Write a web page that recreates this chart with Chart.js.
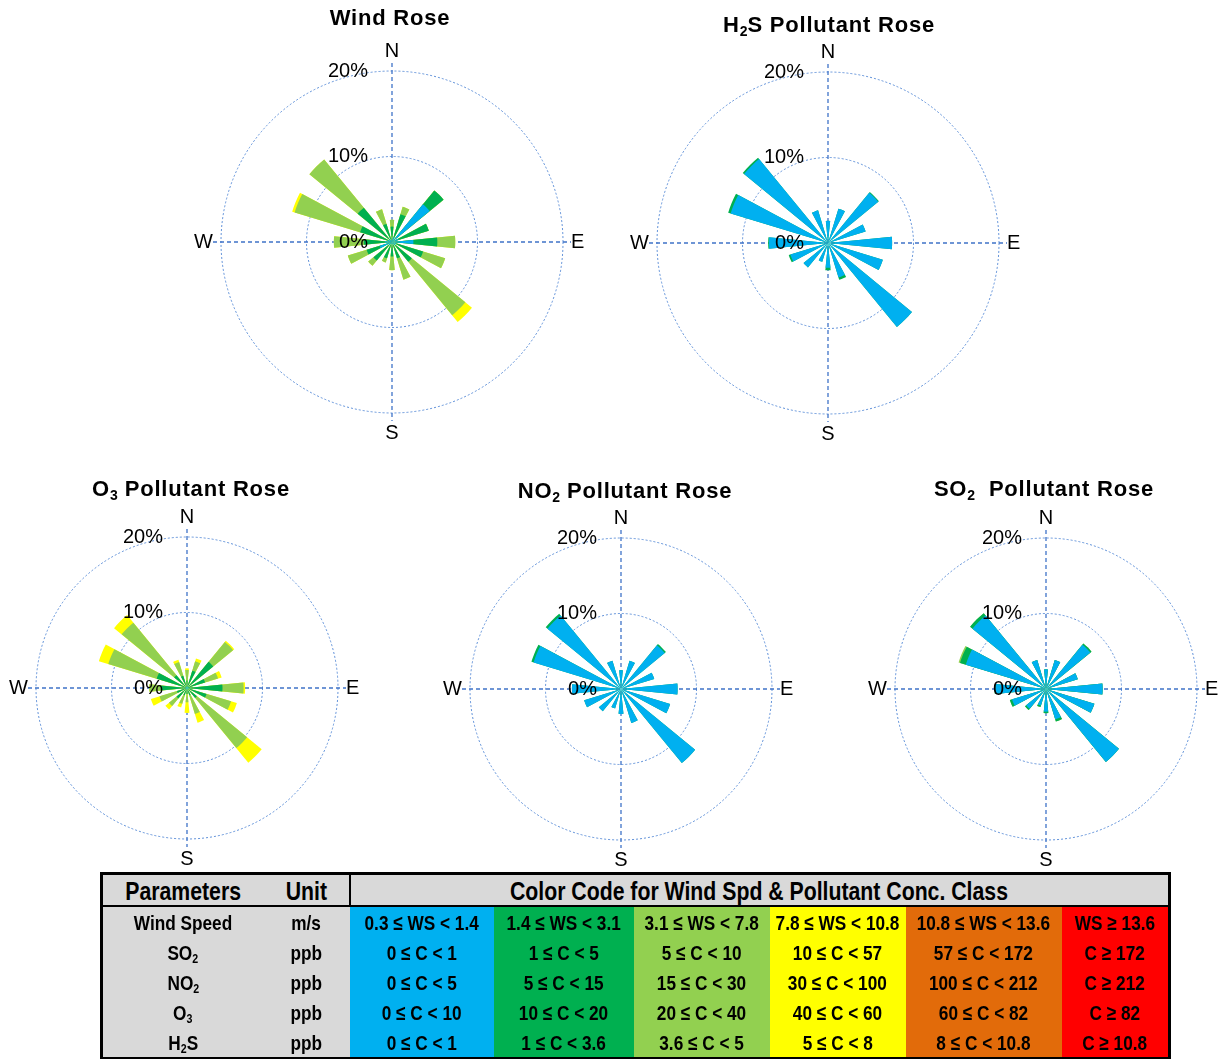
<!DOCTYPE html>
<html>
<head>
<meta charset="utf-8">
<script src="https://cdn.jsdelivr.net/npm/chart.js@4.4.1/dist/chart.umd.min.js"></script>
<style>
  body { margin: 0; background: #fff; width: 1221px; height: 1059px; position: relative; overflow: hidden;
         font-family: "Liberation Sans", Arial, sans-serif; }
  canvas { position: absolute; }
  .title { position: absolute; font-weight: bold; font-size: 22px; line-height: 26px; letter-spacing: 0.8px;
           transform: translateX(-50%); white-space: nowrap; color: #000; z-index: 2; }
  .title sub { font-size: 14px; vertical-align: -4px; letter-spacing: 0; line-height: 0; }
  table.legend { position: absolute; left: 100px; top: 872px; width: 1068px; table-layout: fixed;
                 border-collapse: collapse; border: 3px solid #000;
                 font-family: "Liberation Sans", Arial, sans-serif; font-weight: bold; color: #000; }
  table.legend th { background: #d9d9d9; height: 30px; font-size: 25px; padding: 0; border-bottom: 2px solid #000;
                    text-align: center; }
  table.legend th.cc { border-left: 2px solid #000; }
  table.legend td { height: 30px; padding: 0; text-align: center; font-size: 21px; white-space: nowrap; }
  table.legend span { display: inline-block; transform: scaleX(0.82); margin: 0 -30px; white-space: nowrap;
                      height: 24px; line-height: 24px; vertical-align: middle; overflow: visible; }
  table.legend th span { transform: scaleX(0.85); height: 28px; line-height: 28px; }
  table.legend sub { font-size: 13px; vertical-align: -3px; line-height: 0; }
  td.p { background: #d9d9d9; }
  td.c1 { background: #00B0F0; } td.c2 { background: #00B050; } td.c3 { background: #92D050; }
  td.c4 { background: #FFFF00; } td.c5 { background: #E26B0A; } td.c6 { background: #FF0000; }
</style>
</head>
<body>

<div class="title" style="left:390px; top:5px;">Wind Rose</div>
<div class="title" style="left:829px; top:12px;">H<sub>2</sub>S Pollutant Rose</div>
<div class="title" style="left:191px; top:476px;">O<sub>3</sub> Pollutant Rose</div>
<div class="title" style="left:625px; top:478px;">NO<sub>2</sub> Pollutant Rose</div>
<div class="title" style="left:1044px; top:476px;">SO<sub>2</sub>&nbsp; Pollutant Rose</div>

<canvas id="windRose" width="432" height="432" style="left:176px; top:26px;"></canvas>
<canvas id="h2sRose" width="432" height="432" style="left:612px; top:27px;"></canvas>
<canvas id="o3Rose" width="392" height="392" style="left:-9px; top:492px;"></canvas>
<canvas id="no2Rose" width="392" height="392" style="left:425px; top:493px;"></canvas>
<canvas id="so2Rose" width="392" height="392" style="left:850px; top:493px;"></canvas>

<table class="legend">
  <colgroup>
    <col style="width:162px"><col style="width:86px"><col style="width:144px"><col style="width:140px">
    <col style="width:136px"><col style="width:136px"><col style="width:156px"><col style="width:108px">
  </colgroup>
  <tr><th>Parameters</th><th>Unit</th><th colspan="6" class="cc">Color Code for Wind Spd &amp; Pollutant Conc. Class</th></tr>
  <tr><td class="p">Wind Speed</td><td class="p">m/s</td><td class="c1">0.3 ≤ WS &lt; 1.4</td><td class="c2">1.4 ≤ WS &lt; 3.1</td><td class="c3">3.1 ≤ WS &lt; 7.8</td><td class="c4">7.8 ≤ WS &lt; 10.8</td><td class="c5">10.8 ≤ WS &lt; 13.6</td><td class="c6">WS ≥ 13.6</td></tr>
  <tr><td class="p">SO<sub>2</sub></td><td class="p">ppb</td><td class="c1">0 ≤ C &lt; 1</td><td class="c2">1 ≤ C &lt; 5</td><td class="c3">5 ≤ C &lt; 10</td><td class="c4">10 ≤ C &lt; 57</td><td class="c5">57 ≤ C &lt; 172</td><td class="c6">C ≥ 172</td></tr>
  <tr><td class="p">NO<sub>2</sub></td><td class="p">ppb</td><td class="c1">0 ≤ C &lt; 5</td><td class="c2">5 ≤ C &lt; 15</td><td class="c3">15 ≤ C &lt; 30</td><td class="c4">30 ≤ C &lt; 100</td><td class="c5">100 ≤ C &lt; 212</td><td class="c6">C ≥ 212</td></tr>
  <tr><td class="p">O<sub>3</sub></td><td class="p">ppb</td><td class="c1">0 ≤ C &lt; 10</td><td class="c2">10 ≤ C &lt; 20</td><td class="c3">20 ≤ C &lt; 40</td><td class="c4">40 ≤ C &lt; 60</td><td class="c5">60 ≤ C &lt; 82</td><td class="c6">C ≥ 82</td></tr>
  <tr><td class="p">H<sub>2</sub>S</td><td class="p">ppb</td><td class="c1">0 ≤ C &lt; 1</td><td class="c2">1 ≤ C &lt; 3.6</td><td class="c3">3.6 ≤ C &lt; 5</td><td class="c4">5 ≤ C &lt; 8</td><td class="c5">8 ≤ C &lt; 10.8</td><td class="c6">C ≥ 10.8</td></tr>
</table>

<script>
// 16 direcciones, en sentido horario desde el norte
const directions = ['N', 'NNE', 'NE', 'ENE', 'E', 'ESE', 'SE', 'SSE', 'S', 'SSW', 'SW', 'WSW', 'W', 'WNW', 'NW', 'NNW'];
const compassLabels = ['N', 'E', 'S', 'W'];
const ringValues = [0, 10, 20];
const ringLabels = ['0%', '10%', '20%'];

// colores por clase (velocidad / concentracion)
const blue = '#00B0F0', dkGreen = '#00B050', ltGreen = '#92D050', yellow = '#FFFF00';

// Wind Rose (% de frecuencia por clase)
const windBlue    = [0.3, 0.6, 5.7, 0.8, 2.5, 0.5, 0.5, 0.3, 0.3, 0.3, 0.5, 1.5, 0.8, 0.5, 0.4, 0.3];
const windDkGreen = [1.5, 2.8, 2.1, 3.7, 2.8, 3.3, 2.5, 1.7, 1.4, 1.7, 2.3, 1.6, 2.5, 3.4, 4.8, 1.9];
const windLtGreen = [0.8, 0.9, 0.0, 0.0, 2.1, 2.7, 8.1, 2.6, 1.6, 0.5, 0.8, 2.3, 3.5, 8.0, 7.3, 1.8];
const windYellow  = [0, 0, 0, 0, 0, 0, 1.0, 0, 0, 0, 0, 0, 0, 0.3, 0, 0];

// H2S
const h2sBlue    = [2.6, 4.2, 7.6, 4.6, 7.5, 6.7, 12.7, 4.2, 2.9, 2.3, 3.7, 4.6, 6.9, 11.9, 12.7, 4.0];
const h2sDkGreen = [0, 0, 0.1, 0, 0, 0, 0, 0.3, 0.3, 0, 0, 0.2, 0.1, 0.3, 0.2, 0];

// O3
const o3Blue    = [0.2, 0.2, 0.2, 0.2, 0.3, 0.2, 0.2, 0.2, 0.2, 0.2, 0.2, 0.2, 0.2, 0.2, 0.2, 0.2];
const o3DkGreen = [0.8, 2.2, 4.3, 2.3, 4.4, 2.5, 1.5, 0.8, 0.6, 0.8, 1.6, 1.2, 3.3, 4.0, 2.0, 1.5];
const o3LtGreen = [1.4, 1.3, 3.4, 1.8, 2.8, 3.4, 8.6, 2.6, 1.1, 1.2, 1.3, 2.4, 1.5, 6.7, 9.0, 1.9];
const o3Yellow  = [0.2, 0.4, 0.2, 0.5, 0.2, 0.8, 2.5, 1.2, 1.4, 0.5, 0.6, 1.2, 0, 1.3, 1.3, 0.3];

// NO2
const no2Blue    = [2.5, 3.9, 7.5, 4.6, 7.5, 6.8, 12.7, 4.7, 3.3, 2.7, 3.8, 5.1, 6.5, 12.1, 12.6, 3.9];
const no2DkGreen = [0, 0, 0.2, 0, 0, 0, 0, 0, 0, 0, 0, 0, 0, 0.3, 0.3, 0];

// SO2
const so2Blue    = [2.6, 4.0, 7.6, 4.4, 7.5, 6.7, 12.5, 4.2, 3.0, 2.3, 3.4, 4.7, 6.7, 11.1, 12.6, 4.0];
const so2DkGreen = [0, 0, 0.2, 0, 0, 0, 0, 0.3, 0.2, 0.2, 0.2, 0.3, 0.1, 0.8, 0.4, 0];
const so2LtGreen = [0, 0, 0, 0, 0, 0, 0, 0, 0, 0, 0, 0, 0, 0.2, 0, 0];

// texto estrecho en la tabla (no hay Arial Narrow)
document.querySelectorAll('table.legend th, table.legend td').forEach(c => {
    c.innerHTML = '<span>' + c.innerHTML + '</span>';
});

// cada direccion ocupa un hueco de 11.25 grados y el siguiente queda vacio
const slotLabels = [];
directions.forEach(d => { slotLabels.push(d); slotLabels.push(''); });
function toSlots(values) {
    const out = [];
    values.forEach(v => { out.push(v); out.push(0); });
    return out;
}

// ejes N-S / E-W y textos de la rosa
const roseDecor = {
    id: 'roseDecor',
    beforeDatasetsDraw(chart) {
        const s = chart.scales.r, ctx = chart.ctx;
        const ext = s.drawingArea + 8;
        ctx.save();
        ctx.strokeStyle = '#3f73c8';
        ctx.lineWidth = 1.3;
        ctx.setLineDash([4, 3]);
        ctx.beginPath();
        ctx.moveTo(s.xCenter, s.yCenter - ext); ctx.lineTo(s.xCenter, s.yCenter + ext);
        ctx.moveTo(s.xCenter - ext, s.yCenter); ctx.lineTo(s.xCenter + ext, s.yCenter);
        ctx.stroke();
        ctx.restore();
    },
    afterDatasetsDraw(chart) {
        const s = chart.scales.r, ctx = chart.ctx;
        const r = s.drawingArea;
        ctx.save();
        ctx.fillStyle = '#000';
        ctx.font = '20px "Liberation Sans", Arial, sans-serif';
        ctx.textBaseline = 'middle';
        ctx.textAlign = 'center';
        ctx.fillText(compassLabels[0], s.xCenter, s.yCenter - r - 20);
        ctx.fillText(compassLabels[2], s.xCenter, s.yCenter + r + 20);
        ctx.textAlign = 'left';
        ctx.fillText(compassLabels[1], s.xCenter + r + 8, s.yCenter);
        ctx.textAlign = 'right';
        ctx.fillText(compassLabels[3], s.xCenter - r - 8, s.yCenter);
        ringValues.forEach((v, i) => {
            ctx.fillText(ringLabels[i], s.xCenter - 24, s.yCenter - s.getDistanceFromCenterForValue(v));
        });
        ctx.restore();
    }
};

function buildRose(id, classes) {
    // valores acumulados: la primera clase queda dibujada encima
    let run = directions.map(() => 0);
    const datasets = classes.map(([values, color]) => {
        run = run.map((t, i) => t + values[i]);
        return { data: toSlots(run), backgroundColor: color, borderWidth: 0 };
    });
    new Chart(document.getElementById(id), {
        type: 'polarArea',
        data: { labels: slotLabels, datasets: datasets },
        options: {
            responsive: false,
            animation: false,
            layout: { padding: 45 },
            plugins: { legend: { display: false }, tooltip: { enabled: false } },
            scales: {
                r: {
                    min: 0,
                    max: 20,
                    startAngle: -360 / 32 / 2,
                    ticks: { display: false, stepSize: 10 },
                    grid: { circular: true, color: '#5f90d8', lineWidth: 1 },
                    border: { dash: [2, 2] },
                    angleLines: { display: false },
                    pointLabels: { display: false }
                }
            }
        },
        plugins: [roseDecor]
    });
}

buildRose('windRose', [[windBlue, blue], [windDkGreen, dkGreen], [windLtGreen, ltGreen], [windYellow, yellow]]);
buildRose('h2sRose', [[h2sBlue, blue], [h2sDkGreen, dkGreen]]);
buildRose('o3Rose', [[o3Blue, blue], [o3DkGreen, dkGreen], [o3LtGreen, ltGreen], [o3Yellow, yellow]]);
buildRose('no2Rose', [[no2Blue, blue], [no2DkGreen, dkGreen]]);
buildRose('so2Rose', [[so2Blue, blue], [so2DkGreen, dkGreen], [so2LtGreen, ltGreen]]);
</script>
</body>
</html>
